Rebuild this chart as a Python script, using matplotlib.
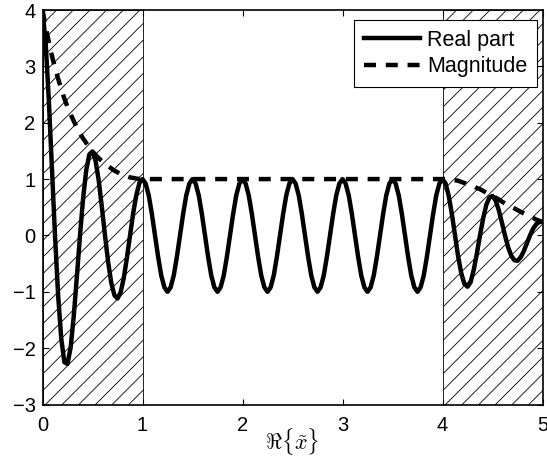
import numpy as np
import matplotlib
matplotlib.use('Agg')
import matplotlib.pyplot as plt

plt.rcParams['font.family'] = ['Liberation Sans', 'DejaVu Sans']
plt.rcParams['mathtext.fontset'] = 'cm'
plt.rcParams['hatch.linewidth'] = 0.6

real_left = [4.00, 3.42, 2.43, 1.22, 0.00, -1.06, -1.83, -2.25, -2.28, -1.99, -1.43, -0.73,
             0.00, 0.66, 1.16, 1.44, 1.49, 1.32, 0.97, 0.50, 0.00, -0.47, -0.84, -1.06,
             -1.12, -1.01, -0.76, -0.40, 0.00, 0.39, 0.71, 0.93]
real_period = [1.00, 0.92, 0.71, 0.38, 0.00, -0.38, -0.71, -0.92,
               -1.00, -0.92, -0.71, -0.38, 0.00, 0.38, 0.71, 0.92]
real_mid = real_period * 6
real_right = [1.00, 0.92, 0.70, 0.38, 0.00, -0.37, -0.67, -0.86, -0.91, -0.83, -0.61, -0.32,
              0.00, 0.30, 0.54, 0.67, 0.70, 0.62, 0.45, 0.23, 0.00, -0.21, -0.36, -0.44,
              -0.45, -0.39, -0.28, -0.14, 0.00, 0.12, 0.20, 0.24, 0.24]
real_part = real_left + real_mid + real_right
x_real = np.linspace(0, 5, len(real_part))

# Magnitud en las zonas PML (cada 1/32), plana = 1 en el centro
mag_left = [4.00, 3.70, 3.44, 3.19, 2.97, 2.78, 2.60, 2.43, 2.28, 2.15, 2.03, 1.91, 1.81,
            1.72, 1.64, 1.56, 1.49, 1.43, 1.37, 1.32, 1.27, 1.23, 1.19, 1.15, 1.12, 1.09,
            1.07, 1.05, 1.03, 1.02, 1.01, 1.00, 1.00]
mag_right = [1.00, 1.00, 0.99, 0.99, 0.98, 0.97, 0.95, 0.93, 0.91, 0.89, 0.87, 0.84, 0.82,
             0.79, 0.76, 0.73, 0.70, 0.67, 0.64, 0.60, 0.57, 0.54, 0.51, 0.48, 0.45, 0.42,
             0.39, 0.36, 0.33, 0.31, 0.28, 0.26, 0.24]
x_mag = np.concatenate([np.linspace(0, 1, len(mag_left)), np.linspace(4, 5, len(mag_right))])
magnitude = mag_left + mag_right

pml_regions = [(0, 1), (4, 5)]

fig = plt.figure(figsize=(5.47, 4.57), dpi=100)
ax = fig.add_axes([42.5 / 547, 52.5 / 457, 500 / 547, 394.5 / 457])

for a, b in pml_regions:
    ax.axvspan(a, b, facecolor='none', edgecolor='k', hatch='//', linewidth=0.6, zorder=1)

ax.plot(x_real, real_part, 'k-', lw=3.2, label='Real part', zorder=3)
ax.plot(x_mag, magnitude, 'k--', lw=3.2, dashes=(2.7, 2.2), label='Magnitude', zorder=4)

ax.set_xlim(0, 5)
ax.set_ylim(-3, 4)
ax.set_xticks(range(0, 6))
ax.set_yticks(range(-3, 5))
ax.tick_params(direction='in', top=True, right=True, length=4, width=0.8, labelsize=14.5)
ax.tick_params(axis='x', pad=8)
ax.tick_params(axis='y', pad=5)
for s in ax.spines.values():
    s.set_linewidth(1.2)

ax.set_xlabel(r'$\Re\{\tilde{x}\}$', fontsize=16, labelpad=-6)

leg = ax.legend(loc='upper right', bbox_to_anchor=(537 / 547, 1 - 20 / 457),
                bbox_transform=fig.transFigure, borderaxespad=0, fontsize=15.5,
                fancybox=False, framealpha=1, edgecolor='k', handlelength=2.6,
                handletextpad=0.35, labelspacing=0.25, borderpad=0.45)
leg.get_frame().set_linewidth(0.8)

fig.savefig('out.png', dpi=100)
